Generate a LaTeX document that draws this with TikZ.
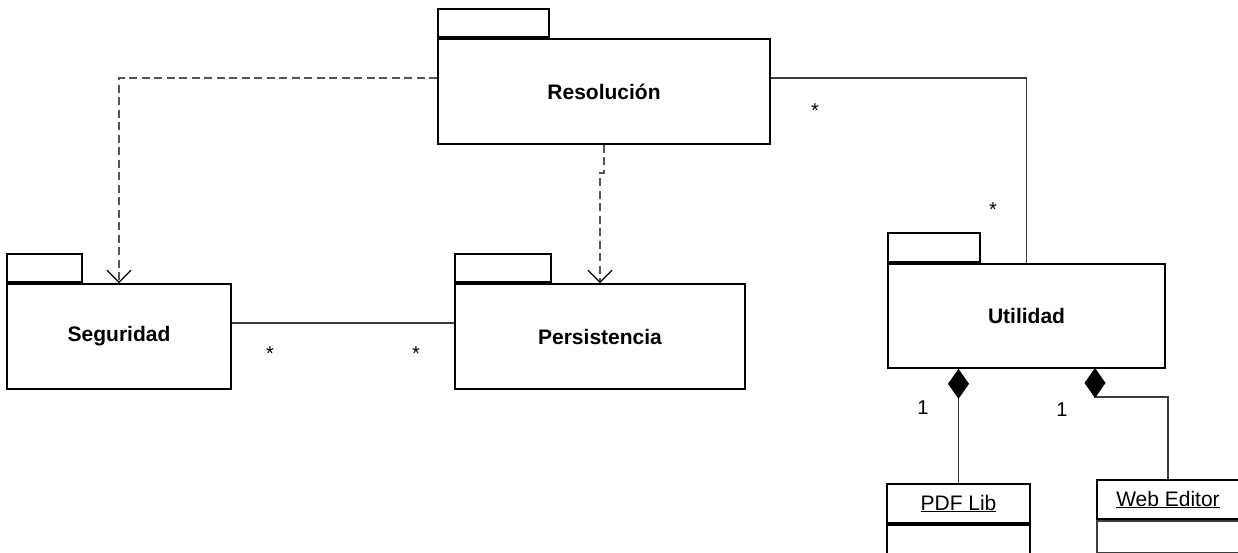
\documentclass[tikz,border=0pt]{standalone}
\usepackage{fontspec}
\setmainfont{Liberation Sans}
\usetikzlibrary{arrows.meta}
\definecolor{dashgray}{RGB}{85, 85, 85}
\definecolor{linegray}{RGB}{60, 60, 60}
\tikzset{
  pkg/.style={draw, line width=1.7pt, inner sep=0pt, minimum height=105pt, font=\fontsize{21}{25}\selectfont\bfseries},
  pkgtab/.style={draw, line width=1.7pt, inner sep=0pt, minimum height=28pt, anchor=south west},
  cls/.style={draw, line width=1.7pt, inner sep=0pt, font=\fontsize{21}{25}\selectfont},
  dep/.style={draw=dashgray, line width=1.3pt, dash pattern=on 8pt off 4.5pt, -{Straight Barb[length=12pt,width=24pt,color=black]}},
  assoc/.style={draw=linegray, line width=1.1pt},
  comp/.style={draw=linegray, line width=1.1pt, {Diamond[length=30pt,width=21pt,color=black,fill=black]}-},
  mult/.style={font=\fontsize{20}{24}\selectfont},
  star/.style={font=\fontsize{20}{24}\selectfont}
}
\begin{document}
\begin{tikzpicture}[x=1pt, y=-1pt]
  \clip (0,0) rectangle (1238,552);
  \node[pkg, minimum width=332pt] (res) at (604,91.5) {Resolución};
  \node[pkgtab, minimum width=111pt] (restab) at (res.north west) {};
  \node[pkg, minimum width=224pt] (seg) at (119,336.5) {Seguridad};
  \node[pkgtab, minimum width=75pt] (segtab) at (seg.north west) {};
  \node[pkg, minimum width=290pt] (per) at (600,336.5) {Persistencia};
  \node[pkgtab, minimum width=96pt] (pertab) at (per.north west) {};
  \node[pkg, minimum width=277pt, minimum height=104pt] (uti) at (1026.5,316) {Utilidad};
  \node[pkgtab, minimum width=92pt, minimum height=29pt] (utitab) at (uti.north west) {};

  \node[cls, minimum width=143pt, minimum height=39pt] (pdf) at (958.5,503.5) {\underline{PDF Lib}};
  \node[cls, minimum width=143pt, minimum height=60pt, anchor=north] (pdfbody) at (pdf.south) {};
  \node[cls, minimum width=142pt, minimum height=39pt] (web) at (1168,499.5) {\underline{Web Editor}};
  \node[cls, draw=linegray, minimum width=142pt, minimum height=32pt, anchor=north] (webbody) at (web.south) {};

  \draw[dep] ([yshift=13.5pt]res.west) -| (seg.north);
  \draw[dep] (res.south) -- ++(0,28) -| (per.north);
  \draw[assoc] ([yshift=13.5pt]res.east) -| (uti.north);
  \draw[assoc] ([yshift=13.5pt]seg.east) -- ([yshift=13.5pt]per.west);

  \coordinate (dpdf) at (uti.south -| pdf.north);
  \coordinate (dweb) at (1095,368);
  \draw[comp] (dpdf) -- (pdf.north);
  \draw[comp] (dweb) -- ++(0,29) -| (web.north);

  \node[star] (m1) at (815,111) {*};
  \node[star] (m2) at (993,210) {*};
  \node[star] (m3) at (270,354) {*};
  \node[star] (m4) at (416,354) {*};
  \node[mult] (m5) at (923,408) {1};
  \node[mult] (m6) at (1062,410) {1};
\end{tikzpicture}
\end{document}
